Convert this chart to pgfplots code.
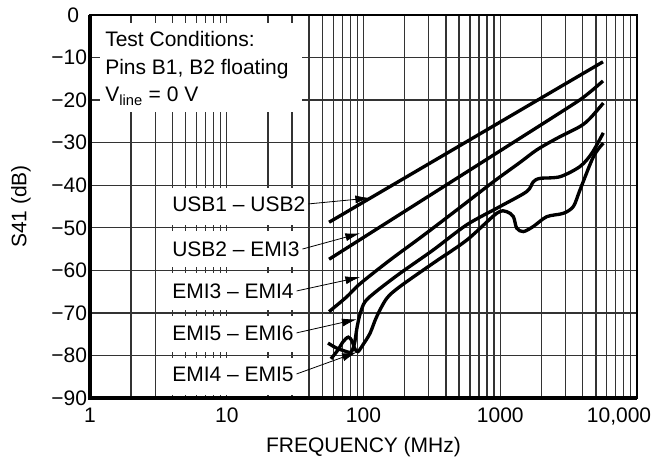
\documentclass[border=0pt]{standalone}
\usepackage{fontspec}
\setmainfont{Liberation Sans}
\usepackage{pgfplots}
\pgfplotsset{compat=1.18}
\usetikzlibrary{arrows.meta}
\newcommand{\chartfont}{\fontsize{15.75}{18.9}\selectfont}
\begin{document}
\chartfont
\begin{tikzpicture}[font=\chartfont]
\begin{axis}[
  xmode=log, log basis x=10,
  scale only axis, width=410.25pt, height=287.25pt,
  xmin=1, xmax=10000, ymin=-90, ymax=0,
  xtick={1,10,100,1000,10000},
  xticklabels={1,10,100,1000,{\makebox[0pt]{\hspace*{-27pt}10,000}}},
  minor xtick={2,3,4,5,6,7,8,9,20,30,40,50,60,70,80,90,200,300,400,500,600,700,800,900,2000,3000,4000,5000,6000,7000,8000,9000},
  ytick={-90,-80,-70,-60,-50,-40,-30,-20,-10,0},
  yticklabels={−90,−80,−70,−60,−50,−40,−30,−20,−10,{0\hspace*{6pt}}},
  xmajorgrids=true, xminorgrids=true, ymajorgrids=true,
  major grid style={black!80, line width=1pt},
  minor grid style={black!80, line width=1pt},
  major tick length=0pt, minor tick length=0pt,
  axis line style={line width=1pt},
  clip=false,
  tick label style={font=\chartfont},
  label style={font=\chartfont},
  xticklabel style={anchor=north, inner sep=0pt, yshift=-7.5pt},
  yticklabel style={anchor=east, inner sep=0pt, xshift=-2pt},
  xlabel={FREQUENCY (MHz)}, ylabel={S41 (dB)},
  xlabel style={at={(axis description cs:0.5,0)}, anchor=north, yshift=-29pt, inner sep=0pt},
  ylabel style={at={(axis description cs:-0.108,0.5)}, anchor=south, inner sep=0pt},
]
% white boxes behind text (cover grid)
\fill[white] (axis cs:1.18,-1.9) rectangle (axis cs:35.5,-22.8);
\fill[white] (axis cs:3.54,-40.7) rectangle (axis cs:35.5,-49.3);
\fill[white] (axis cs:3.54,-50.7) rectangle (axis cs:35.5,-59.3);
\fill[white] (axis cs:3.54,-60.7) rectangle (axis cs:35.5,-69.3);
\fill[white] (axis cs:3.54,-70.7) rectangle (axis cs:35.5,-79.3);
\fill[white] (axis cs:3.54,-80.7) rectangle (axis cs:35.5,-89.3);

% USB1 - USB2
\addplot[black, line width=2.5pt] coordinates {(56,-48.7) (5640,-11.0)};
% USB2 - EMI3
\addplot[black, line width=2.5pt, smooth, tension=0.3] coordinates {(56,-57.4) (1000,-31.9) (3800,-20.0) (5640,-15.5)};
% EMI3 - EMI4
\addplot[black, line width=2.5pt, smooth, tension=0.5] coordinates {
 (56,-69.7) (75,-66.3) (94,-63.2) (156,-57.6) (274,-51.8) (500,-45.4) (890,-39.2)
 (1400,-34.6) (1849,-31.7) (2588,-29.0) (3830,-26.2) (4530,-24.3) (5670,-20.7)};
% EMI5 - EMI6
\addplot[black, line width=2.5pt, smooth, tension=0.5] coordinates {
 (55,-77.1) (62.9,-78.2) (72,-78.9) (81,-79.2) (86,-77.1) (89.6,-73.5) (94.3,-70.3)
 (102.5,-67.4) (123.4,-65.0) (185,-60.7) (324,-55.2) (569,-49.3) (996,-45.0)
 (1560,-41.5) (1744,-39.2) (1953,-38.4) (2735,-38.0) (3830,-35.6) (4670,-32.5) (5670,-27.7)};
% EMI4 - EMI5
\addplot[black, line width=2.5pt, smooth, tension=0.5] coordinates {
 (57.8,-80.8) (65.1,-78.7) (70.8,-76.8) (77.4,-75.7) (82.4,-76.6) (86.6,-78.5) (91.2,-79.1)
 (99.1,-77.5) (111.6,-74.8) (124.8,-70.9) (147.8,-66.6) (185,-63.8) (324,-58.3) (569,-52.9)
 (942,-46.6) (1114,-46.2) (1247,-47.4) (1320,-50.1) (1475,-50.9) (1744,-49.7) (2186,-47.4)
 (2893,-46.6) (3423,-45.0) (3830,-41.1) (4800,-33.3) (5670,-30.1)};

% test conditions text
\node[anchor=base west, inner sep=0pt] at (axis cs:1.288,-7.45) {Test Conditions:};
\node[anchor=base west, inner sep=0pt] at (axis cs:1.288,-14.1) {Pins B1, B2 floating};
\node[anchor=base west, inner sep=0pt] at (axis cs:1.288,-20.4) {V\textsubscript{line} = 0 V};

% curve labels with leaders
\node[anchor=west, inner sep=0pt] (l1) at (axis cs:3.98,-44.4) {USB1 -- USB2};
\node[anchor=west, inner sep=0pt] (l2) at (axis cs:3.98,-55.0) {USB2 -- EMI3};
\node[anchor=west, inner sep=0pt] (l3) at (axis cs:3.98,-64.85) {EMI3 -- EMI4};
\node[anchor=west, inner sep=0pt] (l4) at (axis cs:3.98,-74.7) {EMI5 -- EMI6};
\node[anchor=west, inner sep=0pt] (l5) at (axis cs:3.98,-84.35) {EMI4 -- EMI5};
\draw[line width=0.6pt, -{Latex[length=11pt,width=6pt]}] ([xshift=2pt]l1.east) -- (axis cs:111.6,-43.0);
\draw[line width=0.6pt, -{Latex[length=11pt,width=6pt]}] ([xshift=2pt]l2.east) -- (axis cs:94.3,-51.3);
\draw[line width=0.6pt, -{Latex[length=11pt,width=6pt]}] ([xshift=2pt]l3.east) -- (axis cs:94.3,-61.6);
\draw[line width=0.6pt, -{Latex[length=11pt,width=6pt]}] ([xshift=2pt]l4.east) -- (axis cs:89.2,-71.5);
\draw[line width=0.6pt, -{Latex[length=11pt,width=6pt]}] ([xshift=2pt]l5.east) -- (axis cs:89.2,-79.25);

% thick left and bottom axis
\draw[line width=2.5pt] (rel axis cs:0,1) -- (rel axis cs:0,0) -- (rel axis cs:1,0);
\end{axis}
\pgfresetboundingbox
\path ([shift={(-67.5pt,-46.5pt)}]current axis.south west) rectangle ([shift={(21pt,11.25pt)}]current axis.north east);
\end{tikzpicture}
\end{document}
